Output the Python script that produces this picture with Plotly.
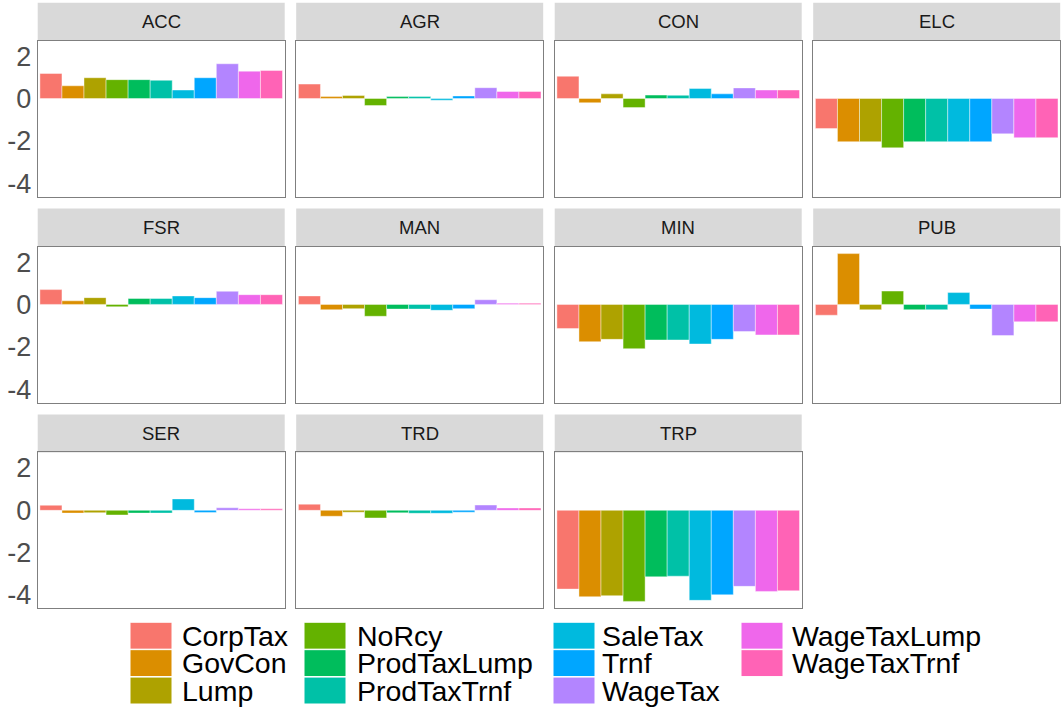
import plotly.graph_objects as go

W, H = 1061, 711

scenarios = ["CorpTax", "GovCon", "Lump", "NoRcy", "ProdTaxLump", "ProdTaxTrnf",
             "SaleTax", "Trnf", "WageTax", "WageTaxLump", "WageTaxTrnf"]
colors = ["#F8766D", "#DB8E00", "#AEA200", "#64B200", "#00BD5C", "#00C1A7",
          "#00BADE", "#00A6FF", "#B385FF", "#EF67EB", "#FF63B6"]
sectors = ["ACC", "AGR", "CON", "ELC", "FSR", "MAN", "MIN", "PUB", "SER", "TRD", "TRP"]

ACC = [1.18, 0.60, 0.98, 0.89, 0.89, 0.86, 0.40, 0.98, 1.64, 1.29, 1.32]
AGR = [0.68, 0.09, 0.14, -0.33, 0.09, 0.09, -0.08, 0.12, 0.51, 0.33, 0.33]
CON = [1.05, -0.20, 0.22, -0.43, 0.16, 0.15, 0.47, 0.22, 0.50, 0.40, 0.40]
ELC = [-1.42, -2.04, -2.04, -2.33, -2.04, -2.04, -2.04, -2.04, -1.67, -1.85, -1.85]
FSR = [0.70, 0.17, 0.32, -0.11, 0.28, 0.28, 0.40, 0.32, 0.62, 0.46, 0.46]
MAN = [0.40, -0.25, -0.20, -0.56, -0.22, -0.22, -0.28, -0.20, 0.22, 0.06, 0.06]
MIN = [-1.14, -1.76, -1.65, -2.09, -1.68, -1.68, -1.87, -1.65, -1.28, -1.44, -1.44]
PUB = [-0.51, 2.40, -0.25, 0.63, -0.25, -0.25, 0.56, -0.22, -1.47, -0.82, -0.82]
SER = [0.24, -0.13, -0.11, -0.22, -0.13, -0.13, 0.54, -0.10, 0.12, 0.07, 0.07]
TRD = [0.29, -0.28, -0.09, -0.36, -0.12, -0.14, -0.14, -0.09, 0.25, 0.11, 0.11]
TRP = [-3.72, -4.08, -4.03, -4.30, -3.14, -3.11, -4.25, -3.99, -3.59, -3.83, -3.80]

values = [ACC, AGR, CON, ELC, FSR, MAN, MIN, PUB, SER, TRD, TRP]

y_ticks = [-4, -2, 0, 2]

FONT = "Liberation Sans, Arial, sans-serif"

allv = [v for s in values for v in s] + [0]
vmin, vmax = min(allv), max(allv)
pad = 0.05 * (vmax - vmin)
yrange = [vmin - pad, vmax + pad]

# layout geometry (pixels)
col_x0 = [37.7, 296.2, 554.7, 813.2]
panel_w = 247.0
row_top = [2.7, 209.2, 415.7]
strip_h = 38.0
panel_h = 156.5


def px(x):
    return x / W


def py(y):
    return 1 - y / H


fig = go.Figure()
layout = dict(width=W, height=H, margin=dict(l=0, r=0, t=0, b=0),
              paper_bgcolor="white", plot_bgcolor="white",
              showlegend=False, font=dict(family=FONT))
shapes = []
annotations = []

for i, sec in enumerate(sectors):
    r, c = divmod(i, 4)
    n = i + 1
    xa = "x" if n == 1 else f"x{n}"
    ya = "y" if n == 1 else f"y{n}"
    x0 = col_x0[c]
    st = row_top[r]
    pt = st + strip_h
    pb = pt + panel_h
    fig.add_trace(go.Bar(
        x=scenarios, y=values[i], xaxis=xa, yaxis=ya, width=1.0,
        marker=dict(color=colors, line=dict(color="rgba(255,255,255,0.7)", width=0.6)),
        hoverinfo="x+y"))
    layout[f"xaxis{'' if n == 1 else n}"] = dict(
        domain=[px(x0), px(x0 + panel_w)], anchor=ya,
        range=[-0.6, 10.6], showticklabels=False, ticks="",
        showgrid=False, zeroline=False,
        showline=True, mirror=True, linecolor="#7F7F7F", linewidth=1,
        categoryorder="array", categoryarray=scenarios)
    layout[f"yaxis{'' if n == 1 else n}"] = dict(
        domain=[py(pb), py(pt)], anchor=xa,
        range=yrange, tickvals=y_ticks, ticktext=[str(t) for t in y_ticks],
        showticklabels=(c == 0), ticks="",
        tickfont=dict(size=27, color="#4D4D4D", family=FONT),
        showgrid=False, zeroline=False,
        showline=True, mirror=True, linecolor="#7F7F7F", linewidth=1)
    shapes.append(dict(type="rect", xref="paper", yref="paper",
                       x0=px(x0), x1=px(x0 + panel_w), y0=py(pt), y1=py(st),
                       fillcolor="#D9D9D9", line=dict(width=0), layer="below"))
    annotations.append(dict(xref="paper", yref="paper",
                            x=px(x0 + panel_w / 2), y=py(st + strip_h / 2),
                            text=sec, showarrow=False, xanchor="center", yanchor="middle",
                            font=dict(size=18.5, color="#1A1A1A", family=FONT)))

# manual legend, 4 columns x 3 rows (column-major)
leg_key_x = [130, 304, 553, 741]
leg_text_x = [180, 355, 600, 790]
leg_row_y = [637.5, 665, 692.5]
key_w, key_h = 42, 27
for j, (name, col) in enumerate(zip(scenarios, colors)):
    c, r = divmod(j, 3)
    cy = leg_row_y[r]
    kx = leg_key_x[c]
    shapes.append(dict(type="rect", xref="paper", yref="paper",
                       x0=px(kx), x1=px(kx + key_w),
                       y0=py(cy + key_h / 2), y1=py(cy - key_h / 2),
                       fillcolor=col, line=dict(color="white", width=1)))
    annotations.append(dict(xref="paper", yref="paper",
                            x=px(leg_text_x[c]), y=py(cy), text=name,
                            showarrow=False, xanchor="left", yanchor="middle",
                            font=dict(size=28.5, color="#000000", family=FONT)))

layout["shapes"] = shapes
layout["annotations"] = annotations
fig.update_layout(**layout)
fig.write_html("out.html", config={"displayModeBar": False},
               post_script="document.body.style.margin='0px';document.body.style.overflow='hidden';")
